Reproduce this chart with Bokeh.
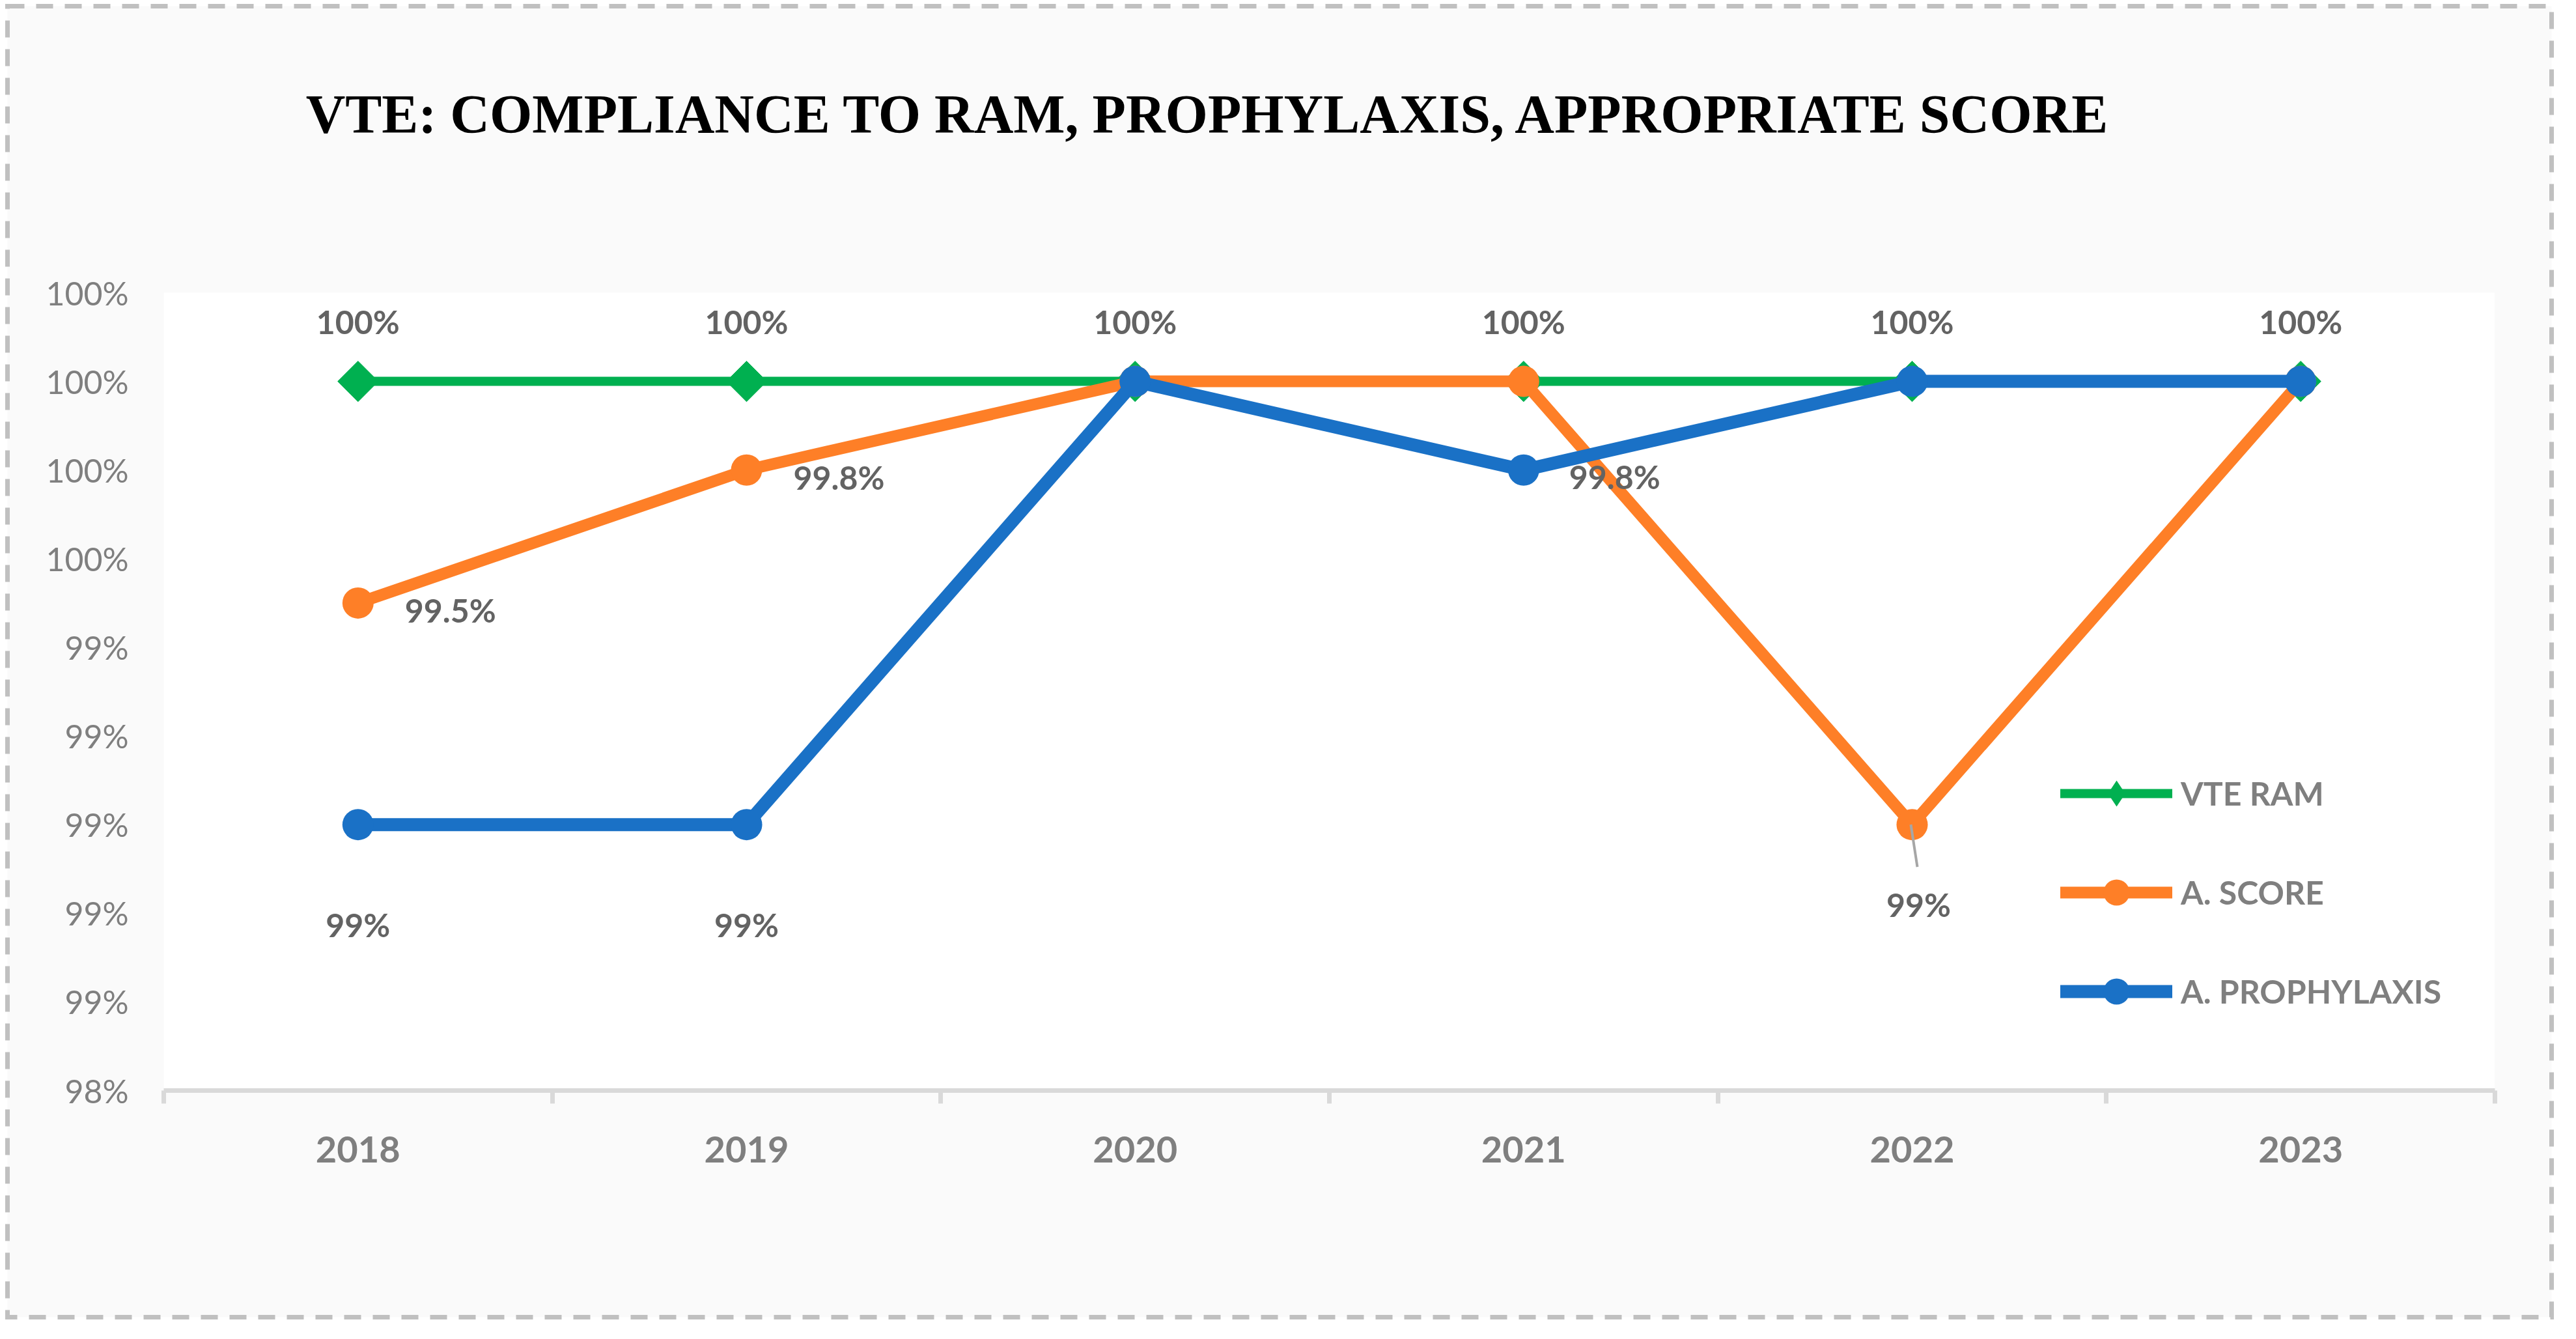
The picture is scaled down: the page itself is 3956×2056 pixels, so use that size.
import math
from bokeh.plotting import figure
from bokeh.models import (Range1d, FixedTicker, NumeralTickFormatter, ColumnDataSource,
                          LabelSet, Label, Legend, LegendItem)
from bokeh.embed import file_html
from bokeh.resources import INLINE
from bokeh.core.properties import value

# ---------------- data ----------------
years = ["2018", "2019", "2020", "2021", "2022", "2023"]
vte_ram = [1.000, 1.000, 1.000, 1.000, 1.000, 1.000]
a_score = [0.995, 0.998, 1.000, 1.000, 0.990, 1.000]
a_prophylaxis = [0.990, 0.990, 1.000, 0.998, 1.000, 1.000]
y_ticks = [0.984, 0.986, 0.988, 0.990, 0.992, 0.994, 0.996, 0.998, 1.000, 1.002]
y_tick_labels = ["98%", "99%", "99%", "99%", "99%", "99%", "100%", "100%", "100%", "100%"]
series_names = ["VTE RAM", "A. SCORE", "A. PROPHYLAXIS"]
title_text = "VTE: COMPLIANCE TO RAM, PROPHYLAXIS, APPROPRIATE SCORE"

# ---------------- style ----------------
GREEN = "#00B050"
ORANGE = "#FE7F27"
BLUE = "#1A71C6"
LABEL_COLOR = "#636363"
AXIS_TEXT = "#7F7F7F"
FONT = "Lato"

BORDER = 7
W, H = 3914, 2020                       # host box incl. the dashed border
ML, MR, MTOP, MB = 236, 98, 7, 359
BAND = 429                              # title band kept inside the frame, above the plot area
FW = W - ML - MR
PH = H - MTOP - BAND - MB               # plot-area height
Y0, Y1 = y_ticks[0], y_ticks[-1]
NX = len(years)
dx_px = NX / FW
dy_px = (Y1 - Y0) / PH
YTOP = Y1 + BAND * dy_px

xs = [i + 0.5 for i in range(NX)]

p = figure(width=W, height=H, x_range=Range1d(0, NX), y_range=Range1d(Y0, YTOP),
           output_backend="svg", toolbar_location=None,
           min_border_left=ML, min_border_right=MR, min_border_top=MTOP, min_border_bottom=MB)

border_svg = ("url(\"data:image/svg+xml;utf8,<svg xmlns='http://www.w3.org/2000/svg' "
              f"width='{W}' height='{H}'><rect x='3.5' y='3.5' width='{W - 7}' height='{H - 7}' "
              "fill='%23FAFAFA' stroke='%23C0C0C0' stroke-width='7' "
              "stroke-dasharray='26 18'/></svg>\")")
p.margin = (6, 0, 0, 8)
p.styles = {"border": f"{BORDER}px solid transparent", "background-image": border_svg,
            "background-origin": "border-box", "background-clip": "border-box",
            "background-repeat": "no-repeat", "overflow": "visible"}
p.border_fill_alpha = 0
p.background_fill_alpha = 0
p.outline_line_color = None
p.xgrid.visible = False
p.ygrid.visible = False

# white plot area
p.quad(left=[0], right=[NX], bottom=[Y0], top=[Y1], fill_color="white", line_color=None)

# x axis
xa = p.xaxis[0]
xa.ticker = FixedTicker(ticks=xs, minor_ticks=list(range(NX + 1)))
xa.major_label_overrides = {x: y for x, y in zip(xs, years)}
xa.axis_line_color = "#D9D9D9"
xa.axis_line_width = 7
xa.major_tick_line_color = None
xa.minor_tick_line_color = "#D9D9D9"
xa.minor_tick_line_width = 7
xa.minor_tick_out = 20
xa.minor_tick_in = 0
xa.major_tick_out = 0
xa.major_tick_in = 0
xa.major_label_standoff = 50
xa.major_label_text_font = FONT
xa.major_label_text_font_style = "bold"
xa.major_label_text_font_size = "56px"
xa.major_label_text_color = AXIS_TEXT

# y axis
ya = p.yaxis[0]
ya.ticker = FixedTicker(ticks=y_ticks, minor_ticks=[])
ya.formatter = NumeralTickFormatter(format="0%")
ya.major_label_overrides = {t: l for t, l in zip(y_ticks, y_tick_labels)}
ya.axis_line_color = None
ya.major_tick_line_color = None
ya.minor_tick_line_color = None
ya.major_tick_out = 0
ya.major_label_standoff = 54
ya.major_label_text_font = FONT
ya.major_label_text_font_size = "50px"
ya.major_label_text_color = AXIS_TEXT

src = ColumnDataSource(dict(x=xs, vte=vte_ram, score=a_score, proph=a_prophylaxis))

r_vl = p.line("x", "vte", source=src, line_color=GREEN, line_width=14,
              line_join="round", line_cap="round")
# smaller upright diamond (hidden beneath the rotated square) used for the legend
r_vleg = p.scatter("x", "vte", source=src, marker="diamond", size=40,
                   fill_color=GREEN, line_color=None)
r_vm = p.scatter("x", "vte", source=src, marker="square", angle=math.pi / 4, size=44,
                 fill_color=GREEN, line_color=GREEN, line_width=1)
r_sl = p.line("x", "score", source=src, line_color=ORANGE, line_width=18,
              line_join="round", line_cap="round")
r_sm = p.scatter("x", "score", source=src, marker="circle", size=48,
                 fill_color=ORANGE, line_color=None)
r_pl = p.line("x", "proph", source=src, line_color=BLUE, line_width=20,
              line_join="round", line_cap="round")
r_pm = p.scatter("x", "proph", source=src, marker="circle", size=48,
                 fill_color=BLUE, line_color=None)

# leader line for 2022 A. SCORE label
i22 = years.index("2022")
p.segment(x0=[xs[i22] - 2 * dx_px], y0=[a_score[i22]],
          x1=[xs[i22] + 8 * dx_px], y1=[a_score[i22] - 65 * dy_px],
          line_color="#A6A6A6", line_width=4)


def fmt(v):
    return f"{v * 100:g}%"


def add_labels(xv, yv, idx, xoff, yoff, align):
    s = ColumnDataSource(dict(x=[xv[i] for i in idx], y=[yv[i] for i in idx],
                              t=[fmt(yv[i]) for i in idx]))
    ls = LabelSet(x="x", y="y", text="t", source=s, x_offset=xoff, y_offset=yoff,
                  text_align=align, text_baseline="middle",
                  text_font=value(FONT), text_font_style="bold",
                  text_font_size="50px", text_color=LABEL_COLOR)
    p.add_layout(ls)


add_labels(xs, vte_ram, list(range(NX)), 0, 92, "center")
add_labels(xs, a_score, [0, 1], 72, -11, "left")
add_labels(xs, a_prophylaxis, [3], 70, -10, "left")
add_labels(xs, a_prophylaxis, [0, 1], 0, -154, "center")
add_labels(xs, a_score, [i22], 10, -123, "center")

# title (inside the frame's upper band)
title_x = 1605 * dx_px
title_y = YTOP - 155 * dy_px
p.add_layout(Label(x=title_x, y=title_y, text=title_text, text_align="center",
                   text_baseline="alphabetic", text_font="Liberation Serif",
                   text_font_style="bold", text_font_size="84px", text_color="black"))

legend = Legend(items=[LegendItem(label=value(series_names[0]), renderers=[r_vl, r_vleg]),
                       LegendItem(label=value(series_names[1]), renderers=[r_sl, r_sm]),
                       LegendItem(label=value(series_names[2]), renderers=[r_pl, r_pm])],
                location=(2913, 102), orientation="vertical",
                glyph_width=172, glyph_height=100, label_height=100, spacing=52,
                padding=0, margin=0, label_standoff=13,
                label_text_font=FONT, label_text_font_style="bold",
                label_text_font_size="50px", label_text_color=AXIS_TEXT,
                label_text_baseline="middle",
                border_line_color=None, background_fill_alpha=0)
p.add_layout(legend)

open("out.html", "w").write(file_html(p, INLINE))
